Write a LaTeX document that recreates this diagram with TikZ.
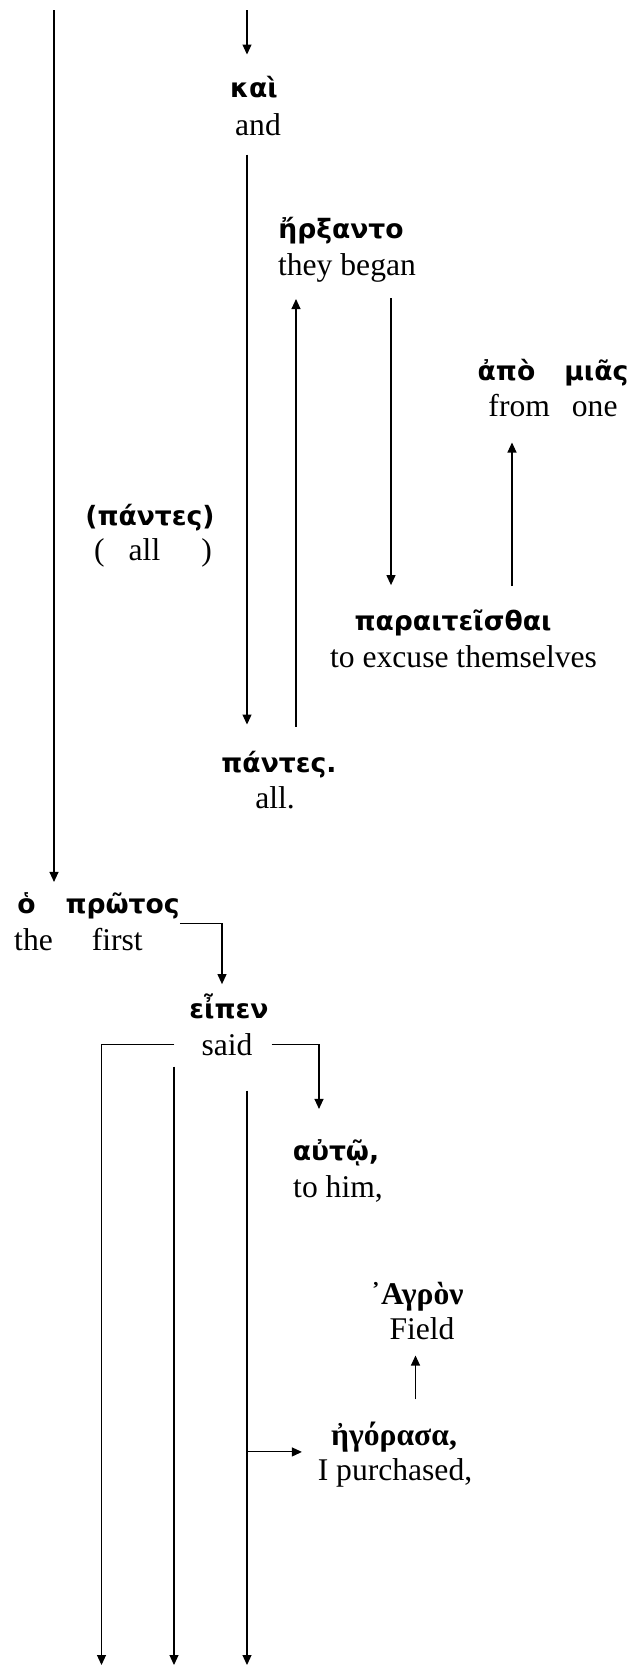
\documentclass[tikz,border=0pt]{standalone}
\usepackage{fontspec}
\setmainfont{Liberation Serif}
\newfontfamily\grk[Script=Greek]{DejaVu Sans}
\usetikzlibrary{arrows.meta}

\begin{document}
\begin{tikzpicture}[x=1pt,y=-1pt,
    gr/.style={anchor=base,inner sep=0pt,font=\grk\bfseries\fontsize{26.6}{30}\selectfont},
    grb/.style={anchor=base,inner sep=0pt,font=\bfseries\fontsize{31.6}{36}\selectfont},
    en/.style={anchor=base,inner sep=0pt,font=\fontsize{31.6}{36}\selectfont},
    arr/.style={line width=1.1pt,-{Triangle[length=10pt,width=9pt]}}]
    \useasboundingbox (0,0) rectangle (628,1666);

    \node[gr] (kai) at (254,97) {καὶ};
    \node[en] (kai-e) at (258,135) {and};
    \node[gr] (erxanto) at (341,238) {ἤρξαντο};
    \node[en] (erxanto-e) at (347,275) {they began};
    \node[gr] (apo) at (553,380) {ἀπὸ\hspace{29pt}μιᾶς};
    \node[en] (apo-e) at (553,416) {from\hspace{22pt}one};
    \node[gr] (pantesp) at (150,525) {(πάντες)};
    \node[en] (pantesp-e) at (153,560) {(\hspace{24pt}all\hspace{41pt})};
    \node[gr] (parai) at (453,630) {παραιτεῖσθαι};
    \node[en] (parai-e) at (463.5,667) {to excuse themselves};
    \node[gr] (pantes) at (279,772) {πάντες.};
    \node[en] (pantes-e) at (275,808) {all.};
    \node[gr] (protos) at (98.5,913) {ὁ\hspace{30pt}πρῶτος};
    \node[en] (protos-e) at (78.5,950) {the\hspace{39pt}first};
    \node[gr] (eipen) at (229,1018) {εἶπεν};
    \node[en] (eipen-e) at (227,1055) {said};
    \node[gr] (auto) at (336,1160) {αὐτῷ,};
    \node[en] (auto-e) at (338,1197) {to him,};
    \node[grb] (agron) at (417,1304) {᾽Αγρὸν};
    \node[en] (agron-e) at (422,1339) {Field};
    \node[grb] (egorasa) at (394,1445) {ἠγόρασα,};
    \node[en] (egorasa-e) at (395,1480) {I purchased,};

    \coordinate (topA) at (54,10);
    \coordinate (topB) at (247,10);
    \coordinate (botA) at (101.5,1665);
    \coordinate (botB) at (174,1665);
    \coordinate (botC) at (247,1665);

    \draw[arr,shorten >=10pt] (topA) -- (topA |- protos.north);
    \draw[arr,shorten >=21pt] (topB) -- (topB |- kai.north);
    \draw[arr,shorten <=19pt,shorten >=26pt] (topB |- kai-e.south) -- (topB |- pantes.north);
    \draw[arr,shorten <=24pt,shorten >=17pt] ([xshift=17pt]pantes.north) -- ([xshift=17pt]pantes.north |- erxanto-e.south);
    \draw[arr,shorten <=16pt,shorten >=24pt] ([xshift=44pt]erxanto-e.south) -- ([xshift=44pt]erxanto-e.south |- parai.north);
    \draw[arr,shorten <=23pt,shorten >=26pt] ([xshift=59pt]parai.north) -- ([xshift=59pt]parai.north |- apo-e.south);
    \draw[arr,shorten >=9pt] ([yshift=-5pt]protos.south east) -| ([xshift=-7pt]eipen.north);
    \draw[arr,shorten <=27pt] (eipen-e.west) -| (botA);
    \draw[arr,shorten <=11pt] (botB |- eipen-e.south) -- (botB);
    \draw[arr,shorten <=35pt] (botC |- eipen-e.south) -- (botC);
    \draw[arr,shorten <=19pt,shorten >=30pt] (eipen-e.east) -| ([xshift=-17pt]auto.north);
    \draw[arr,shorten >=29pt] (botC |- egorasa.south west) -- (egorasa.south west);
    \draw[arr,shorten <=22pt,shorten >=16pt] ([xshift=21.5pt]egorasa.north) -- ([xshift=21.5pt]egorasa.north |- agron-e.south);
\end{tikzpicture}
\end{document}
